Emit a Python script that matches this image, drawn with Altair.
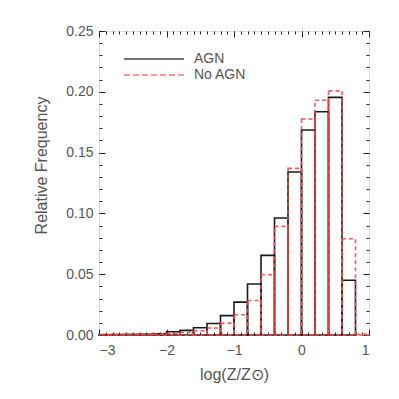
import altair as alt
import pandas as pd

# ---- data ----
bin_starts = [-3.0, -2.8, -2.6, -2.4, -2.2, -2.0, -1.8, -1.6, -1.4, -1.2,
              -1.0, -0.8, -0.6, -0.4, -0.2, 0.0, 0.2, 0.4, 0.6, 0.8]
bin_width = 0.2
agn_freq = [0.0003, 0.0004, 0.0005, 0.0006, 0.0010, 0.0027, 0.0038, 0.0060, 0.0095, 0.0159,
            0.0270, 0.0420, 0.0655, 0.0962, 0.1340, 0.1686, 0.1836, 0.1954, 0.0450, 0.0]
noagn_freq = [0.0002, 0.0003, 0.0004, 0.0005, 0.0007, 0.0012, 0.0022, 0.0035, 0.0058, 0.0098,
              0.0166, 0.0284, 0.0496, 0.0893, 0.1370, 0.1776, 0.1930, 0.2008, 0.0792, 0.0008]
series_names = ["AGN", "No AGN"]
x_major = [-3, -2, -1, 0, 1]
y_major = [0.0, 0.05, 0.10, 0.15, 0.20, 0.25]
x_minor = [round(-3 + 0.1 * i, 2) for i in range(41)]
y_minor = [round(0.01 * i, 2) for i in range(26)]

W, H = 270, 304
FONT = "Liberation Sans"
TXT = "#555555"
RED = "#ff4545"

def frame(vals, name):
    return pd.DataFrame({
        "x": bin_starts,
        "x2": [b + bin_width for b in bin_starts],
        "y": vals,
        "series": name,
    })

df_agn = frame(agn_freq, series_names[0])
df_agn = df_agn[df_agn["y"] > 0]
df_no = frame(noagn_freq, series_names[1])

xs = alt.Scale(domain=[-3, 1], nice=False, zero=False)
ys = alt.Scale(domain=[0, 0.25], nice=False)

agn = alt.Chart(df_agn).mark_rect(fillOpacity=0, stroke="#1a1a1a", strokeWidth=1.6).encode(
    x=alt.X("x:Q", scale=xs, axis=alt.Axis(
        orient="bottom", values=x_major, ticks=False, domain=False, grid=False,
        labelPadding=8, labelFontSize=14, labelFont=FONT, labelColor=TXT,
        title="log(Z/Z⊙)", titleFont=FONT, titleFontSize=16, titleFontWeight="normal",
        titleColor=TXT, titlePadding=9)),
    x2="x2:Q",
    y=alt.Y("y:Q", scale=ys, axis=alt.Axis(
        orient="left", values=y_major, format=".2f", ticks=False, domain=False, grid=False,
        labelPadding=6, labelFontSize=14, labelFont=FONT, labelColor=TXT,
        title="Relative Frequency", titleFont=FONT, titleFontSize=16,
        titleFontWeight="normal", titleColor=TXT, titleY=134, titleX=-50)),
    y2=alt.datum(0),
)

noagn = alt.Chart(df_no).mark_rect(fillOpacity=0, stroke=RED, strokeWidth=1.6,
                                   strokeDash=[4, 3], strokeOpacity=0.9).encode(
    x=alt.X("x:Q", scale=xs, axis=None),
    x2="x2:Q",
    y=alt.Y("y:Q", scale=ys, axis=None),
    y2=alt.datum(0),
)

def tick_layer(xo, yo, xvals, yvals, size):
    return alt.Chart(df_no).mark_point(opacity=0).encode(
        x=alt.X("x:Q", scale=xs, axis=alt.Axis(
            orient=xo, offset=-H, values=xvals, tickSize=size, tickColor="#222",
            tickWidth=1, labels=False, domain=False, grid=False, title=None)),
        y=alt.Y("y:Q", scale=ys, axis=alt.Axis(
            orient=yo, offset=-W, values=yvals, tickSize=size, tickColor="#222",
            tickWidth=1, labels=False, domain=False, grid=False, title=None)),
    )

t1 = tick_layer("top", "right", x_major, y_major, 6)
t2 = tick_layer("top", "right", x_minor, y_minor, 3)
t3 = tick_layer("bottom", "left", x_major, y_major, 6)
t4 = tick_layer("bottom", "left", x_minor, y_minor, 3)

leg_df = pd.DataFrame({"label": series_names})
leg1_line = alt.Chart(leg_df.iloc[[0]]).mark_rule(color="#444", strokeWidth=1.3).encode(
    x=alt.value(25), x2=alt.value(85), y=alt.value(28))
leg2_line = alt.Chart(leg_df.iloc[[1]]).mark_rule(color=RED, stroke=RED, strokeWidth=1.5,
                                                  strokeDash=[6, 3], opacity=0.75).encode(
    x=alt.value(25), x2=alt.value(85), y=alt.value(44))
leg1_txt = alt.Chart(leg_df.iloc[[0]]).mark_text(align="left", baseline="middle", font=FONT,
                                                 fontSize=14, color=TXT).encode(
    x=alt.value(95), y=alt.value(27.5), text="label:N")
leg2_txt = alt.Chart(leg_df.iloc[[1]]).mark_text(align="left", baseline="middle", font=FONT,
                                                 fontSize=14, color=TXT).encode(
    x=alt.value(95), y=alt.value(43.5), text="label:N")

chart = alt.layer(agn, noagn, t1, t2, t3, t4, leg1_line, leg2_line, leg1_txt, leg2_txt).resolve_axis(
    x="independent", y="independent"
).properties(
    width=W, height=H,
    autosize=alt.AutoSizeParams(type="none"),
    padding={"left": 91, "top": 23, "right": 22, "bottom": 56},
).configure_view(stroke="#222", strokeWidth=1.3).configure(background="white")

chart.save("out.html", embed_options={"renderer": "svg", "actions": False})
